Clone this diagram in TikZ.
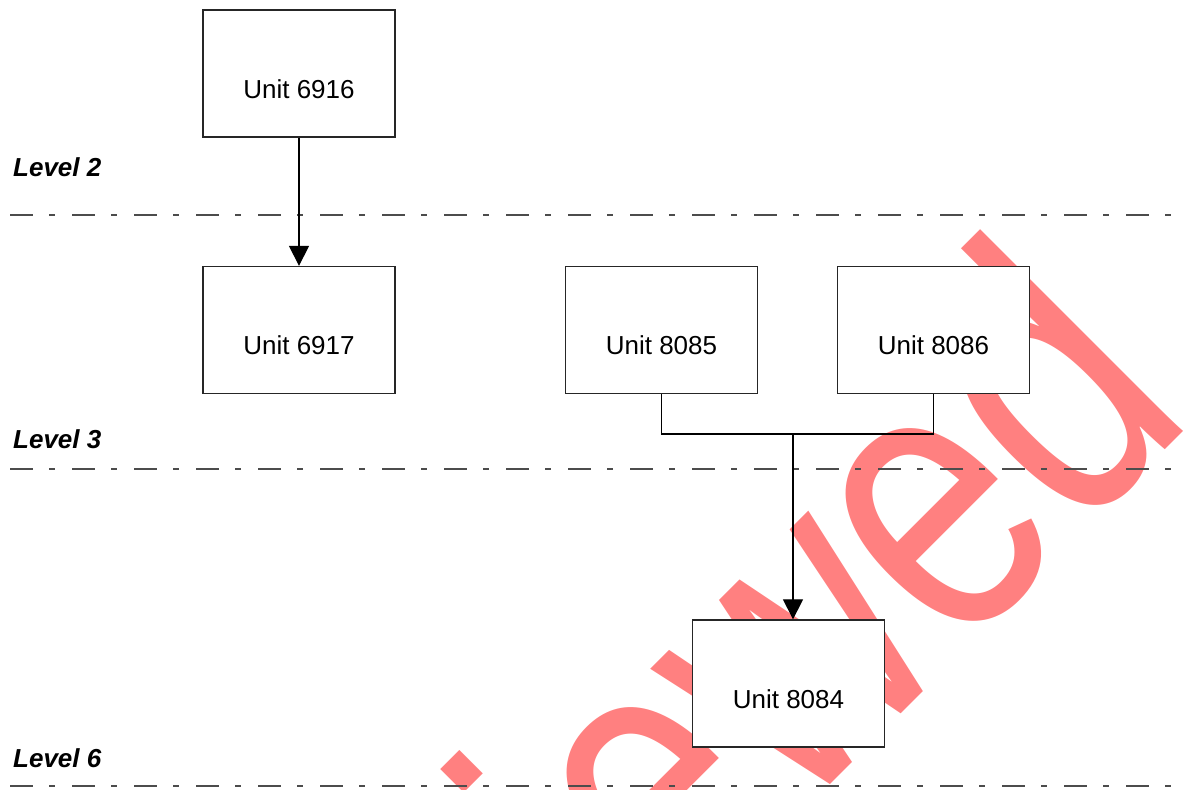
\documentclass[tikz,border=0pt]{standalone}
\usepackage{fontspec}
\setmainfont{Liberation Sans}
\usetikzlibrary{arrows.meta}
\begin{document}
\begin{tikzpicture}[x=1pt,y=1pt,
  unitbox/.style={draw=black!85, line width=1.3pt, fill=white, minimum width=192pt, minimum height=127pt, inner sep=0pt},
  unittext/.style={anchor=base, inner sep=0pt, font=\fontsize{26}{30}\selectfont},
  levellabel/.style={anchor=base west, inner sep=0pt, font=\fontsize{26}{30}\selectfont\bfseries\itshape},
  levelline/.style={draw=black!70, line width=1.4pt, dash pattern=on 23pt off 16pt on 6pt off 17pt},
  link/.style={draw=black, line width=1.2pt},
  arrowlink/.style={link, -{Triangle[length=20pt,width=20pt]}},
  wmark/.style={anchor=base east, inner sep=0pt, transform shape, text=red!50, font=\fontsize{395}{400}\selectfont}
]
\useasboundingbox (0,0) rectangle (1184,-790);
\clip (0,0) rectangle (1184,-790);
% watermark
\begin{scope}[shift={(1198,-417)}, rotate=45, xscale=0.78]
  \node[wmark] (wm) at (0,0) {Reviewed};
\end{scope}
% level lines and labels
\node[levellabel] (l2) at (13,-176) {Level 2};
\node[levellabel] (l3) at (13,-448) {Level 3};
\node[levellabel] (l6) at (13,-767) {Level 6};
\coordinate (l2a) at (10,-215); \coordinate (l2b) at (1184,-215);
\coordinate (l3a) at (10,-469); \coordinate (l3b) at (1184,-469);
\coordinate (l6a) at (10,-786); \coordinate (l6b) at (1184,-786);
\draw[levelline] (l2a) -- (l2b);
\draw[levelline] (l3a) -- (l3b);
\draw[levelline] (l6a) -- (l6b);
% boxes
\node[unitbox] (u6916) at (299,-73.5) {};
\node[unittext] (t6916) at ([yshift=-89pt]u6916.north) {Unit 6916};
\node[unitbox] (u6917) at (299,-330) {};
\node[unittext] (t6917) at ([yshift=-89pt]u6917.north) {Unit 6917};
\node[unitbox] (u8085) at (661.5,-330) {};
\node[unittext] (t8085) at ([yshift=-89pt]u8085.north) {Unit 8085};
\node[unitbox] (u8086) at (933.5,-330) {};
\node[unittext] (t8086) at ([yshift=-89pt]u8086.north) {Unit 8086};
\node[unitbox] (u8084) at (788.5,-683.5) {};
\node[unittext] (t8084) at ([yshift=-89pt]u8084.north) {Unit 8084};
% connectors
\draw[arrowlink] (u6916.south) -- (u6917.north);
\coordinate (bus) at (793,-434);
\draw[link] (u8085.south) |- (bus) -| (u8086.south);
\draw[arrowlink] (bus) -- (bus |- u8084.north);
\end{tikzpicture}
\end{document}
